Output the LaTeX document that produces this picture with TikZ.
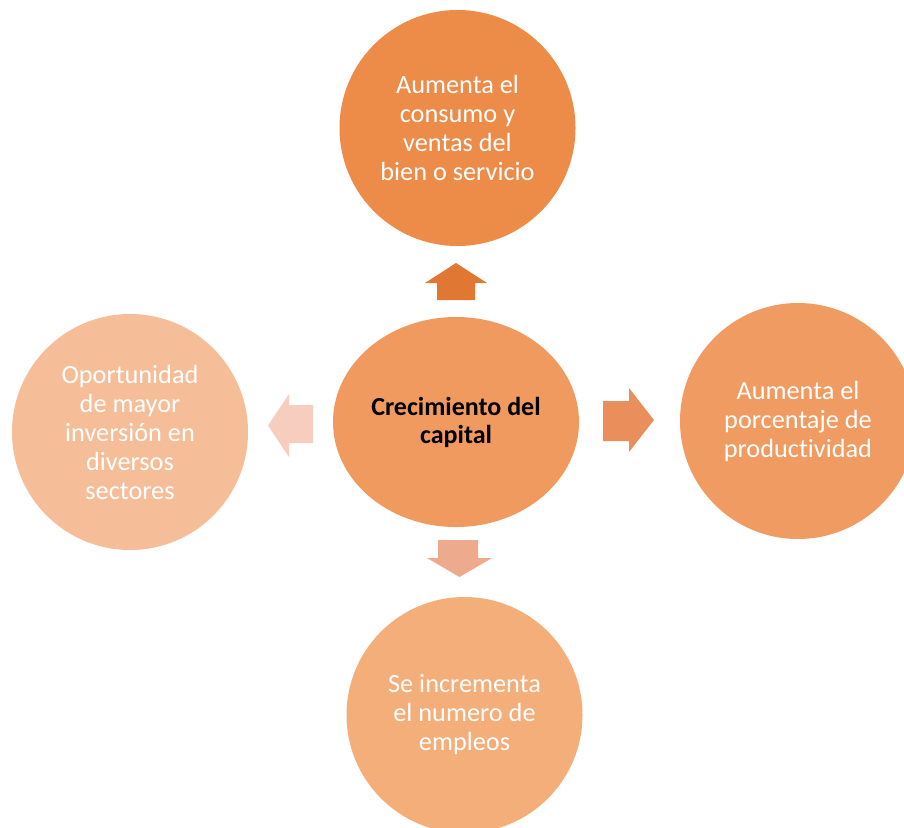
\documentclass[tikz,border=0pt]{standalone}
\usepackage{fontspec}
\setmainfont{Carlito}[Ligatures=NoCommon]
\usetikzlibrary{shapes.geometric}
\definecolor{ctop}{RGB}{237,139,72}
\definecolor{ccen}{RGB}{240,154,95}
\definecolor{cright}{RGB}{240,155,98}
\definecolor{cbot}{RGB}{243,174,122}
\definecolor{cleft}{RGB}{245,190,152}
\definecolor{aup}{RGB}{224,120,52}
\definecolor{aright}{RGB}{234,143,92}
\definecolor{adown}{RGB}{238,170,140}
\definecolor{aleft}{RGB}{246,205,190}
\tikzset{
  bubble/.style={circle, minimum size=236pt, inner sep=0pt, align=center,
    text=white, font=\fontsize{26.3}{29}\selectfont},
  hub/.style={ellipse, minimum width=246pt, minimum height=210pt, inner sep=0pt,
    align=center, fill=ccen, text=black, font=\fontsize{26}{28}\selectfont\bfseries}
}
\begin{document}
\begin{tikzpicture}[x=1pt,y=-1pt]
\useasboundingbox (0,0) rectangle (904,827);
\clip (0,0) rectangle (904,827);
\fill[white] (0,0) rectangle (904,827);
\node[bubble, fill=ctop] (top) at (457.5,128) {Aumenta el\\consumo y\\ventas del\\bien o servicio};
\node[hub] (cen) at (456,422) {Crecimiento del\\capital};
\node[bubble, fill=cright] (right) at (798,421) {Aumenta el\\porcentaje de\\productividad};
\node[bubble, fill=cleft] (left) at (130,432) {Oportunidad\\de mayor\\inversión en\\diversos\\sectores};
\node[bubble, fill=cbot] (bot) at (464.5,715) {Se incrementa\\el numero de\\empleos};
% block arrows
\fill[aup] (456,263) -- (487,283) -- (475,283) -- (475,300) -- (437,300) -- (437,283) -- (425,283) -- cycle;
\fill[adown] (459.5,577) -- (492,558) -- (478,558) -- (478,540) -- (438,540) -- (438,558) -- (427,558) -- cycle;
\fill[aright] (654,420) -- (629,452) -- (629,441) -- (603,441) -- (603,401) -- (629,401) -- (629,388) -- cycle;
\fill[aleft] (268,425.5) -- (289,457) -- (289,443) -- (313,443) -- (313,405) -- (289,405) -- (289,394) -- cycle;
\end{tikzpicture}
\end{document}
